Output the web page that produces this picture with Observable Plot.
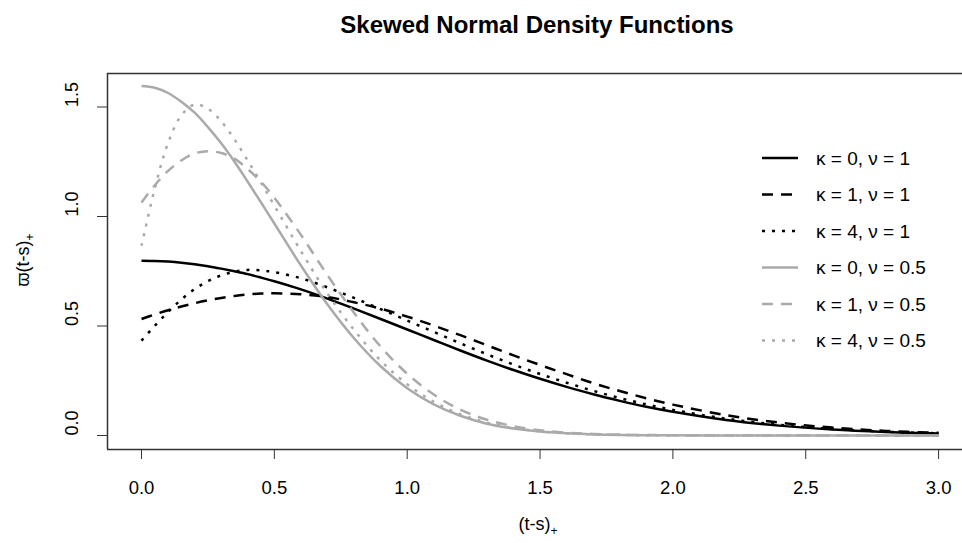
<!DOCTYPE html>
<html>
<head>
<meta charset="utf-8">
<script src="https://cdn.jsdelivr.net/npm/d3@7"></script>
<script src="https://cdn.jsdelivr.net/npm/@observablehq/plot@0.6"></script>
<style>
  html, body { margin: 0; padding: 0; background: #fff; overflow: hidden; }
  body { font-family: "Liberation Sans", Arial, sans-serif; width: 962px; height: 543px; }
  #title { height: 48px; line-height: 50px; width: 850px; margin-left: 112px; text-align: center;
           font-weight: bold; font-size: 24px; color: #000; }
</style>
</head>
<body>
<div id="title">Skewed Normal Density Functions</div>
<div id="chart"></div>
<script>
// ---- data ----
const xs = [0,0.05,0.1,0.15,0.2,0.25,0.3,0.35,0.4,0.45,0.5,0.6,0.7,0.8,0.9,1.0,1.1,1.2,1.3,1.4,1.5,1.6,1.7,1.8,1.9,2.0,2.2,2.4,2.6,2.8,3.0];
const k0v1  = [0.798,0.797,0.794,0.789,0.782,0.773,0.762,0.750,0.737,0.721,0.704,0.667,0.625,0.579,0.532,0.484,0.436,0.388,0.342,0.299,0.259,0.222,0.188,0.158,0.131,0.108,0.071,0.045,0.027,0.016,0.009];
const k1v1  = [0.532,0.553,0.572,0.589,0.604,0.617,0.628,0.637,0.644,0.648,0.649,0.645,0.632,0.608,0.579,0.543,0.502,0.458,0.412,0.366,0.322,0.280,0.239,0.203,0.170,0.141,0.093,0.059,0.036,0.021,0.012];
const k4v1  = [0.433,0.501,0.564,0.621,0.668,0.705,0.731,0.748,0.756,0.754,0.746,0.718,0.676,0.628,0.577,0.525,0.473,0.421,0.371,0.324,0.281,0.241,0.204,0.171,0.142,0.117,0.077,0.049,0.030,0.017,0.010];
const k0v05 = [1.596,1.588,1.564,1.524,1.474,1.408,1.334,1.250,1.158,1.064,0.968,0.776,0.598,0.444,0.316,0.216,0.142,0.090,0.054,0.032,0.018,0.010,0.005,0.002,0.001,0.001,0,0,0,0,0];
const k1v05 = [1.064,1.143,1.208,1.256,1.288,1.298,1.290,1.264,1.216,1.158,1.086,0.916,0.732,0.560,0.406,0.282,0.187,0.118,0.072,0.042,0.024,0.013,0.007,0.003,0.002,0.001,0,0,0,0,0];
const k4v05 = [0.866,1.128,1.336,1.462,1.511,1.492,1.435,1.352,1.255,1.154,1.050,0.842,0.648,0.482,0.342,0.234,0.154,0.097,0.059,0.034,0.019,0.010,0.005,0.003,0.001,0.001,0,0,0,0,0];
const seriesLabels = ["κ = 0, ν = 1","κ = 1, ν = 1","κ = 4, ν = 1","κ = 0, ν = 0.5","κ = 1, ν = 0.5","κ = 4, ν = 0.5"];
const xTicks = [0,0.5,1,1.5,2,2.5,3];
const yTicks = [0,0.5,1,1.5];
const titleText = "Skewed Normal Density Functions";

// ---- styles ----
const BLACK = "#000000", GREY = "#aaaaaa";
const SOLID = null, DASHED = "11,8", DOTTED = "3,7";
const seriesValues = [k0v1, k1v1, k4v1, k0v05, k1v05, k4v05];
const seriesColor = [BLACK, BLACK, BLACK, GREY, GREY, GREY];
const seriesDash = [SOLID, DASHED, DOTTED, SOLID, DASHED, DOTTED];
const LW = 2.5;

const W = 962, H = 495;
const xDomain = [-0.128, 3.09];
const yDomain = [-0.064, 1.653];
const fmt = d3.format(".1f");

const lineMarks = seriesValues.map((vals, s) =>
  Plot.line(xs.map((x, i) => ({x, y: vals[i]})), {
    x: "x", y: "y", stroke: seriesColor[s], strokeWidth: LW,
    strokeDasharray: seriesDash[s], curve: "catmull-rom", strokeLinecap: "butt"
  })
);

const plot = Plot.plot({
  width: W, height: H,
  marginLeft: 107, marginRight: 0, marginTop: 25, marginBottom: 94,
  style: {fontFamily: '"Liberation Sans", Arial, sans-serif', fontSize: "18px", background: "#fff", color: "#000"},
  x: {domain: xDomain},
  y: {domain: yDomain},
  marks: [
    Plot.axisX(xTicks, {tickSize: 10, tickPadding: 21, tickFormat: fmt, label: null, stroke: "#333", fontSize: 18.5}),
    Plot.axisY(yTicks, {tickSize: 10, tickFormat: () => "", label: null, stroke: "#333"}),
    Plot.text(yTicks, {y: d => d, text: d => fmt(d), frameAnchor: "left", rotate: -90, dx: -35, fontSize: 18, fill: "#000"}),
    ...lineMarks,
    Plot.ruleX([xDomain[0]], {y1: yDomain[0], y2: yDomain[1], stroke: "#333", strokeWidth: 1.5}),
    Plot.ruleY([yDomain[0], yDomain[1]], {x1: xDomain[0], x2: xDomain[1], stroke: "#333", strokeWidth: 1.5})
  ]
});
document.getElementById("chart").appendChild(plot);

// ---- axis titles and legend ----
const svg = d3.select(plot);
const xt = svg.append("text").attr("x", 538).attr("y", 482).attr("text-anchor", "middle")
  .attr("font-size", 18).attr("fill", "#000");
xt.append("tspan").text("(t-s)");
xt.append("tspan").attr("font-size", 12).attr("dy", 5).text("+");

const yt = svg.append("text").attr("transform", "translate(29,212) rotate(-90)").attr("text-anchor", "middle")
  .attr("font-size", 18).attr("fill", "#000");
yt.append("tspan").text("ϖ(t-s)");
yt.append("tspan").attr("font-size", 12).attr("dy", 5).text("+");

const leg = svg.append("g").attr("text-anchor", "start");
seriesLabels.forEach((lab, i) => {
  const y = 110 + 36.5 * i;
  leg.append("line").attr("x1", 762).attr("x2", 798).attr("y1", y).attr("y2", y)
    .attr("stroke", seriesColor[i]).attr("stroke-width", LW)
    .attr("stroke-dasharray", seriesDash[i]);
  leg.append("text").attr("x", 816).attr("y", y).attr("dy", "0.35em").attr("text-anchor", "start")
    .attr("font-size", 19).attr("fill", "#000").text(lab);
});
</script>
</body>
</html>
